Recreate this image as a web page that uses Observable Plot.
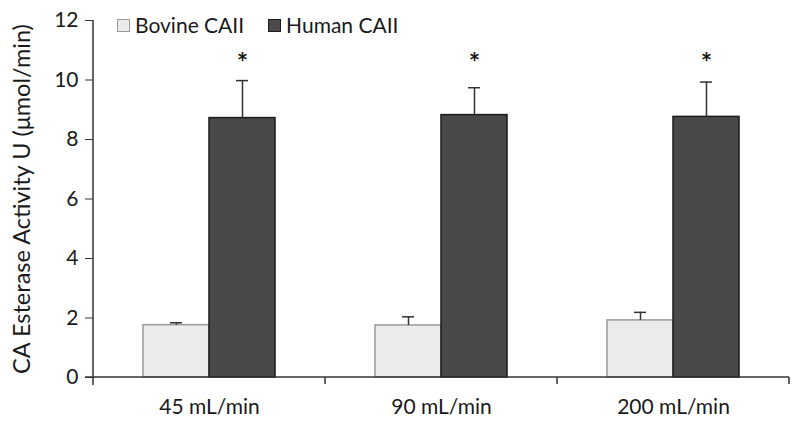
<!DOCTYPE html>
<html>
<head>
<meta charset="utf-8">
<script src="https://cdn.jsdelivr.net/npm/d3@7"></script>
<script src="https://cdn.jsdelivr.net/npm/@observablehq/plot@0.6"></script>
<style>
  html, body { margin: 0; padding: 0; background: #fff; }
  #wrap { position: relative; width: 800px; height: 427px; font-family: Lato, "Open Sans", sans-serif; }
  #legend { position: absolute; left: 117px; top: 13px; display: flex; align-items: center; font-size: 21px; color: #1a1a1a; line-height: 24px; }
  #legend .sw { width: 13px; height: 13px; box-sizing: border-box; margin-right: 5px; }
  #legend .item { display: flex; align-items: center; margin-right: 24px; }
  svg text { font-family: Lato, "Open Sans", sans-serif; }
</style>
</head>
<body>
<div id="wrap"><div id="legend"></div></div>
<script>
const categories = ["45 mL/min", "90 mL/min", "200 mL/min"];
const series = ["Bovine CAII", "Human CAII"];
const bovineValues = [1.76, 1.75, 1.92];
const bovineErrors = [0.08, 0.29, 0.27];
const humanValues = [8.72, 8.82, 8.76];
const humanErrors = [1.26, 0.92, 1.17];
const significant = ["*", "*", "*"];
const yTicks = [0, 2, 4, 6, 8, 10, 12];
const fills = ["#ebebeb", "#494949"];
const strokes = ["#9a9a9a", "#1a1a1a"];

const data = [];
categories.forEach((c, i) => {
  data.push({cat: c, series: series[0], value: bovineValues[i], err: bovineErrors[i]});
  data.push({cat: c, series: series[1], value: humanValues[i], err: humanErrors[i]});
});
const stars = categories.map((c, i) => ({cat: c, series: series[1], label: significant[i], y: 10.55}));

const legend = document.getElementById("legend");
series.forEach((s, i) => {
  const it = document.createElement("div");
  it.className = "item";
  it.innerHTML = `<div class="sw" style="background:${fills[i]};border:1px solid ${strokes[i]}"></div><span>${s}</span>`;
  legend.appendChild(it);
});

const chart = Plot.plot({
  width: 800,
  height: 427,
  marginLeft: 93,
  marginRight: 11,
  marginTop: 20,
  marginBottom: 50,
  style: {background: "transparent", color: "#1a1a1a"},
  fx: {domain: categories, padding: 0, label: null, axis: "bottom", tickSize: 0, tickPadding: 22},
  x: {domain: series, axis: null, paddingInner: 0, paddingOuter: 0.757},
  y: {domain: [0, 12], ticks: yTicks, tickSize: 8, tickPadding: 7, label: "CA Esterase Activity U (μmol/min)", labelAnchor: "center", labelOffset: 80, labelArrow: "none"},
  color: {domain: series, range: fills},
  marks: [
    Plot.barY(data, {fx: "cat", x: "series", y: "value", fill: "series", stroke: d => strokes[series.indexOf(d.series)], strokeWidth: 1.5}),
    Plot.ruleX(data, {fx: "cat", x: "series", y1: "value", y2: d => d.value + d.err, stroke: "#333", strokeWidth: 1.5}),
    Plot.tickY(data, {fx: "cat", x: "series", y: d => d.value + d.err, stroke: "#333", strokeWidth: 1.5, insetLeft: 27, insetRight: 27}),
    Plot.text(stars, {fx: "cat", x: "series", y: "y", text: "label", fontSize: 27, fontWeight: "bold", fill: "#1a1a1a"})
  ]
});

const svg = d3.select(chart.tagName === "svg" ? chart : chart.querySelector("svg"));
svg.selectAll('g[aria-label="y-axis tick label"] text, g[aria-label="fx-axis tick label"] text').style("font-size", "21px");
svg.selectAll('g[aria-label="y-axis label"] text').style("font-size", "23.5px");
svg.selectAll('g[aria-label="y-axis tick"] path').attr("stroke", "#333");

const yS = chart.scale("y");
const fxS = chart.scale("fx");
const y0 = yS.apply(0), yTop = yS.apply(12);
const left = fxS.apply(categories[0]);
const bw = fxS.bandwidth;
const right = fxS.apply(categories[categories.length - 1]) + bw;
const g = svg.append("g").attr("stroke", "#333").attr("stroke-width", 1.5).attr("fill", "none");
g.append("line").attr("x1", left).attr("x2", left).attr("y1", yTop).attr("y2", y0 + 8);
g.append("line").attr("x1", left - 8).attr("x2", right).attr("y1", y0).attr("y2", y0);
categories.forEach(c => {
  const xb = fxS.apply(c) + bw;
  g.append("line").attr("x1", xb).attr("x2", xb).attr("y1", y0).attr("y2", y0 + 7);
});

document.getElementById("wrap").prepend(chart);
</script>
</body>
</html>
